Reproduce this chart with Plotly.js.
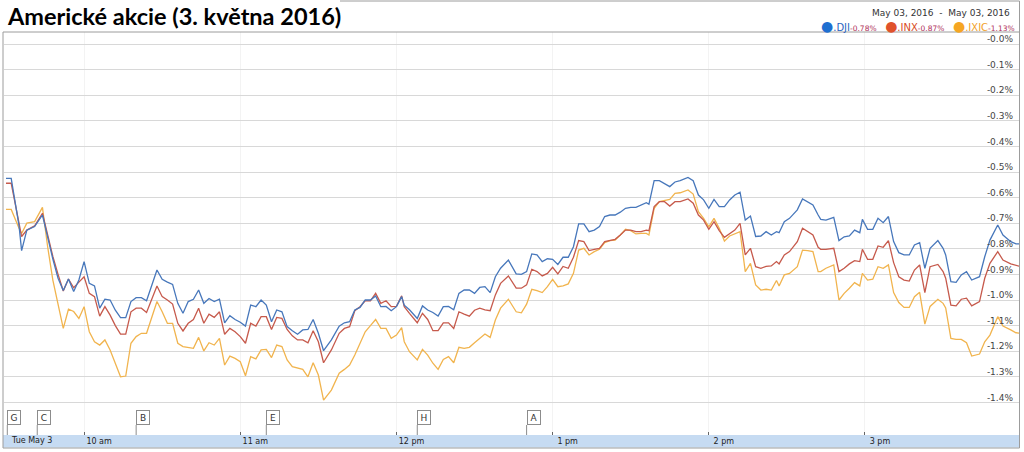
<!DOCTYPE html>
<html>
<head>
<meta charset="utf-8">
<script src="https://cdn.plot.ly/plotly-3.0.1.min.js"></script>
<style>
  html, body { margin: 0; padding: 0; background: #fff; }
  #chart { width: 1024px; height: 452px; }
</style>
</head>
<body>
<div id="chart"></div>
<script>
// ---- Data ----
const chartTitle = "Americké akcie (3. května 2016)";
const dateRangeText = "May 03, 2016\u00a0\u00a0-\u00a0\u00a0May 03, 2016";

// minutes after the 9:30 open
const minutesFromOpen = [
  0, 2, 5, 6, 8, 11, 14, 16, 18, 20, 22, 24, 26, 28, 30, 32, 34, 36, 38, 40,
  42, 44, 46, 48, 50, 52, 54, 58, 60, 62, 64, 66, 68, 70, 72, 74, 76, 78, 80, 82,
  84, 86, 88, 90, 92, 94, 96, 98, 100, 102, 104, 106, 108, 110, 112, 114, 116, 118, 120, 122,
  125, 128, 130, 132, 134, 136, 138, 140, 142, 144, 146, 148, 150, 152, 153, 155, 158, 160, 162, 164,
  166, 168, 170, 172, 174, 176, 178, 180, 182, 184, 186, 188, 190, 193, 196, 198, 200, 202, 204, 206,
  208, 210, 212, 214, 216, 218, 220, 222, 224, 226, 228, 230, 232, 234, 236, 238, 240, 242, 244, 246,
  247, 249, 251, 253, 255, 257, 259, 262, 264, 266, 268, 270, 272, 274, 276, 278, 280, 282, 284, 286,
  288, 290, 292, 294, 296, 297, 299, 301, 304, 306, 308, 310, 312, 313, 315, 318, 320, 322, 324, 326,
  328, 329, 331, 333, 335, 337, 339, 341, 343, 345, 347, 349, 351, 353, 355, 358, 360, 361, 363, 365,
  367, 369, 371, 374, 376, 378, 381, 383, 386, 388, 390
];

// percent change from previous close
const dji = [
  -0.525, -0.525, -0.71, -0.807, -0.727, -0.713, -0.668, -0.76, -0.84, -0.915, -0.963, -0.918, -0.967, -0.922, -0.85, -0.935, -0.945, -1.032, -0.997, -1.0,
  -1.04, -1.069, -1.069, -1.006, -0.991, -0.991, -1.003, -0.883, -0.919, -0.93, -0.939, -1.013, -1.052, -1.006, -0.997, -0.961, -1.013, -0.994, -1.006, -0.997,
  -1.089, -1.061, -1.076, -1.087, -1.102, -1.02, -1.026, -1.0, -1.02, -1.085, -1.039, -1.046, -1.104, -1.12, -1.134, -1.117, -1.115, -1.076, -1.13, -1.198,
  -1.156, -1.102, -1.089, -1.085, -1.039, -1.029, -1.0, -1.0, -0.984, -1.026, -1.025, -1.042, -1.026, -0.987, -1.02, -1.038, -1.072, -1.023, -1.039, -1.049,
  -1.063, -1.026, -1.025, -1.038, -0.974, -0.961, -0.961, -0.974, -0.951, -0.948, -0.971, -0.909, -0.876, -0.844, -0.898, -0.9, -0.889, -0.82, -0.824, -0.85,
  -0.839, -0.841, -0.861, -0.833, -0.833, -0.792, -0.703, -0.703, -0.733, -0.727, -0.713, -0.674, -0.668, -0.668, -0.657, -0.642, -0.638, -0.638, -0.629, -0.62,
  -0.626, -0.534, -0.534, -0.547, -0.557, -0.539, -0.534, -0.521, -0.534, -0.59, -0.609, -0.642, -0.607, -0.635, -0.635, -0.609, -0.59, -0.579, -0.688, -0.672,
  -0.752, -0.75, -0.733, -0.746, -0.733, -0.737, -0.694, -0.681, -0.648, -0.605, -0.616, -0.629, -0.668, -0.685, -0.688, -0.677, -0.768, -0.753, -0.75, -0.727,
  -0.737, -0.685, -0.724, -0.724, -0.681, -0.698, -0.674, -0.772, -0.815, -0.824, -0.824, -0.785, -0.776, -0.876, -0.798, -0.768, -0.798, -0.824, -0.928, -0.931,
  -0.902, -0.889, -0.922, -0.909, -0.831, -0.766, -0.707, -0.746, -0.772, -0.781, -0.78
];
const inx = [
  -0.544, -0.544, -0.70, -0.752, -0.727, -0.71, -0.661, -0.75, -0.83, -0.90, -0.965, -0.918, -0.952, -0.93, -0.909, -0.974, -0.987, -1.063, -1.026, -1.059,
  -1.10, -1.133, -1.133, -1.046, -1.032, -1.032, -1.049, -0.945, -0.987, -1.0, -1.016, -1.091, -1.121, -1.091, -1.076, -1.032, -1.091, -1.055, -1.068, -1.046,
  -1.134, -1.111, -1.124, -1.143, -1.169, -1.091, -1.102, -1.065, -1.065, -1.115, -1.068, -1.072, -1.115, -1.14, -1.156, -1.156, -1.167, -1.12, -1.163, -1.245,
  -1.195, -1.13, -1.111, -1.104, -1.042, -1.026, -1.003, -1.003, -0.974, -1.013, -1.003, -1.026, -1.025, -0.984, -1.026, -1.052, -1.089, -1.052, -1.076, -1.12,
  -1.12, -1.089, -1.089, -1.111, -1.046, -1.055, -1.063, -1.04, -1.032, -1.039, -1.042, -0.98, -0.935, -0.906, -0.954, -0.954, -0.941, -0.88, -0.889, -0.906,
  -0.896, -0.872, -0.898, -0.869, -0.876, -0.833, -0.768, -0.772, -0.807, -0.802, -0.798, -0.772, -0.766, -0.763, -0.746, -0.727, -0.727, -0.733, -0.733, -0.727,
  -0.729, -0.635, -0.616, -0.616, -0.633, -0.616, -0.616, -0.605, -0.622, -0.668, -0.688, -0.724, -0.694, -0.729, -0.755, -0.74, -0.727, -0.701, -0.824, -0.798,
  -0.87, -0.876, -0.869, -0.867, -0.85, -0.859, -0.824, -0.811, -0.772, -0.72, -0.733, -0.746, -0.794, -0.802, -0.802, -0.798, -0.889, -0.876, -0.859, -0.846,
  -0.85, -0.802, -0.841, -0.841, -0.789, -0.794, -0.768, -0.854, -0.909, -0.922, -0.926, -0.883, -0.863, -0.971, -0.87, -0.861, -0.889, -0.915, -1.02, -1.023,
  -0.997, -0.993, -1.023, -1.006, -0.915, -0.857, -0.811, -0.844, -0.859, -0.863, -0.87
];
const ixic = [
  -0.646, -0.646, -0.72, -0.74, -0.70, -0.694, -0.638, -0.792, -0.922, -1.013, -1.111, -1.036, -1.045, -1.072, -1.026, -1.124, -1.163, -1.176, -1.156, -1.195,
  -1.247, -1.30, -1.297, -1.169, -1.143, -1.13, -1.13, -1.006, -1.046, -1.091, -1.091, -1.169, -1.182, -1.185, -1.189, -1.146, -1.199, -1.167, -1.176, -1.15,
  -1.254, -1.219, -1.228, -1.241, -1.296, -1.221, -1.23, -1.195, -1.193, -1.225, -1.176, -1.182, -1.234, -1.26, -1.267, -1.271, -1.30, -1.245, -1.293, -1.391,
  -1.352, -1.286, -1.271, -1.254, -1.215, -1.169, -1.124, -1.10, -1.076, -1.111, -1.111, -1.15, -1.137, -1.108, -1.163, -1.202, -1.234, -1.193, -1.215, -1.247,
  -1.271, -1.232, -1.221, -1.245, -1.185, -1.189, -1.185, -1.167, -1.15, -1.133, -1.146, -1.078, -1.032, -0.997, -1.046, -1.05, -1.016, -0.958, -0.963, -0.971,
  -0.948, -0.919, -0.948, -0.945, -0.937, -0.896, -0.805, -0.798, -0.824, -0.811, -0.802, -0.776, -0.768, -0.766, -0.746, -0.724, -0.729, -0.742, -0.74, -0.74,
  -0.746, -0.642, -0.616, -0.612, -0.607, -0.583, -0.581, -0.57, -0.586, -0.655, -0.681, -0.714, -0.681, -0.72, -0.77, -0.75, -0.74, -0.733, -0.889, -0.857,
  -0.941, -0.961, -0.958, -0.961, -0.924, -0.945, -0.902, -0.896, -0.87, -0.805, -0.807, -0.811, -0.889, -0.889, -0.876, -0.863, -1.0, -0.974, -0.954, -0.932,
  -0.945, -0.896, -0.922, -0.919, -0.87, -0.876, -0.863, -0.971, -1.01, -1.029, -1.029, -0.987, -0.97, -1.094, -1.025, -0.997, -1.013, -1.031, -1.15, -1.154,
  -1.154, -1.167, -1.219, -1.211, -1.163, -1.137, -1.065, -1.102, -1.117, -1.128, -1.13
];

const seriesNames = [".DJI", ".INX", ".IXIC"];
const seriesValues = [dji, inx, ixic];

const yTickVals = [0, -0.1, -0.2, -0.3, -0.4, -0.5, -0.6, -0.7, -0.8, -0.9, -1.0, -1.1, -1.2, -1.3, -1.4];
const yTickText = ["-0.0%", "-0.1%", "-0.2%", "-0.3%", "-0.4%", "-0.5%", "-0.6%", "-0.7%", "-0.8%", "-0.9%", "-1.0%", "-1.1%", "-1.2%", "-1.3%", "-1.4%"];
const xTickVals = [30, 90, 150, 210, 270, 330];
const xTickText = ["10 am", "11 am", "12 pm", "1 pm", "2 pm", "3 pm"];
const xStartLabel = "Tue May 3";

const flagLetters = ["G", "C", "B", "E", "H", "A"];
const flagMinutes = [0.5, 12, 50, 100, 158, 200];

// ---- Styling ----
const lineColors = ["#4777bb", "#c65a4c", "#f1b44e"];
const dotColors = ["#1f6fd0", "#e0522c", "#f5a623"];
const nameColors = ["#2a64c0", "#d84a24", "#f2a22a"];
const W = 1024, H = 452;
const M = { l: 4, r: 5, t: 32, b: 17 };
const plotW = W - M.l - M.r, plotH = H - M.t - M.b;
const px2paperX = px => (px - M.l) / plotW;
const px2paperY = py => (H - M.b - py) / plotH;

const traces = seriesValues.map((vals, i) => ({
  type: "scatter",
  mode: "lines",
  name: seriesNames[i],
  x: minutesFromOpen,
  y: vals,
  line: { color: lineColors[i], width: 1.3 },
  hoverinfo: "skip"
}));
traces.reverse();

const annotations = [];
const shapes = [];

// legend line built from the series
const legendText = seriesValues.map((vals, i) => {
  const last = vals[vals.length - 1];
  return `<span style="color:${dotColors[i]};font-size:14px">●</span>` +
         `<span style="color:${nameColors[i]};font-size:10px">${seriesNames[i]}</span>` +
         `<span style="color:#b0305a;font-size:7.5px">${last.toFixed(2)}%</span>`;
}).join("\u00a0\u00a0\u00a0");

annotations.push({
  xref: "paper", yref: "paper", x: px2paperX(1017), y: px2paperY(26),
  xanchor: "right", yanchor: "middle", showarrow: false,
  text: legendText, font: { family: "DejaVu Sans", size: 9, color: "#333" }
});
annotations.push({
  xref: "paper", yref: "paper", x: px2paperX(1012), y: px2paperY(13),
  xanchor: "right", yanchor: "middle", showarrow: false,
  text: dateRangeText, font: { family: "DejaVu Sans", size: 9, color: "#333" }
});
annotations.push({
  xref: "x", yref: "paper", x: 0, xshift: 3, y: px2paperY(441),
  xanchor: "left", yanchor: "middle", showarrow: false,
  text: xStartLabel, font: { family: "DejaVu Sans", size: 8, color: "#222" }
});

// news flags
flagLetters.forEach((letter, i) => {
  annotations.push({
    xref: "x", yref: "paper", x: flagMinutes[i], y: px2paperY(425),
    xanchor: "left", yanchor: "bottom", showarrow: false,
    text: letter, width: 10, height: 11, borderpad: 1,
    bgcolor: "#ffffff", bordercolor: "#8c8c8c", borderwidth: 1,
    font: { family: "DejaVu Sans", size: 9, color: "#333" }
  });
  shapes.push({
    type: "line", xref: "x", yref: "paper",
    x0: flagMinutes[i], x1: flagMinutes[i], y0: 0, y1: px2paperY(425),
    line: { color: "#8c8c8c", width: 1 }
  });
});

// bottom time band
shapes.push({
  type: "rect", xref: "paper", yref: "paper", layer: "below",
  x0: px2paperX(3), x1: px2paperX(1019.5), y0: px2paperY(447.5), y1: 0,
  fillcolor: "#c6dbf2", line: { width: 0 }
});
// frame lines
const frameColor = "#9c9c9c";
const frame = [
  [340, 1, 1019.5, 1], [1019.5, 1, 1019.5, 448], [3, 32, 1019.5, 32],
  [3, 32, 3, 448], [3, 448, 1019.5, 448]
];
frame.forEach(f => shapes.push({
  type: "line", xref: "paper", yref: "paper",
  x0: px2paperX(f[0]), y0: px2paperY(f[1]), x1: px2paperX(f[2]), y1: px2paperY(f[3]),
  line: { color: frameColor, width: 1 }
}));

const layout = {
  width: W, height: H,
  margin: M,
  paper_bgcolor: "#ffffff", plot_bgcolor: "#ffffff",
  showlegend: false,
  font: { family: "DejaVu Sans", size: 9, color: "#333" },
  title: {
    text: chartTitle,
    font: { family: "Lato", size: 23.5, color: "#000", weight: "bold" },
    xref: "container", yref: "container",
    x: 8 / W, xanchor: "left", y: 1 - 17 / H, yanchor: "middle"
  },
  xaxis: {
    range: [(M.l - 6) / 2.603, (W - M.r - 6) / 2.603],
    tickvals: xTickVals, ticktext: xTickText,
    ticks: "inside", ticklen: 3, tickcolor: "#666",
    tickfont: { family: "DejaVu Sans", size: 8, color: "#222" },
    ticklabelshift: 15, ticklabelstandoff: 0,
    showgrid: true, gridcolor: "#f3f3f3", gridwidth: 1,
    zeroline: false, showline: false, fixedrange: true
  },
  yaxis: {
    side: "right",
    range: [-(H - M.b - 44) / 256, (44 - M.t) / 256],
    tickvals: yTickVals, ticktext: yTickText,
    ticklabelposition: "inside",
    ticks: "",
    tickfont: { family: "DejaVu Sans", size: 9, color: "#444" },
    ticklabelshift: -5, ticklabelstandoff: 3,
    showgrid: true, gridcolor: "#d8d8d8", gridwidth: 1,
    zeroline: false, showline: false, fixedrange: true
  },
  annotations: annotations,
  shapes: shapes
};

Plotly.newPlot("chart", traces, layout, { displayModeBar: false, staticPlot: true });
</script>
</body>
</html>
